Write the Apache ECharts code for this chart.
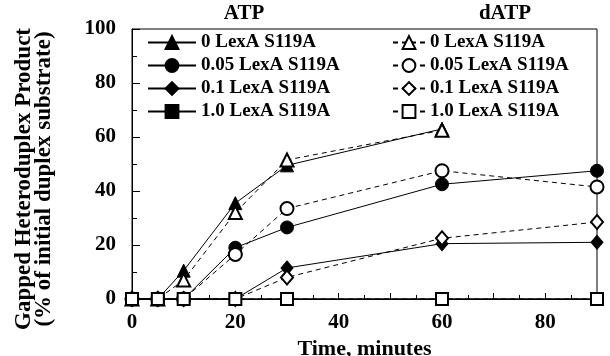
<!DOCTYPE html>
<html>
<head>
<meta charset="utf-8">
<script src="https://cdn.jsdelivr.net/npm/echarts@6/dist/echarts.min.js"></script>
<style>
html, body { margin: 0; padding: 0; background: #fff; }
#chart { width: 610px; height: 356px; }
</style>
</head>
<body>
<div id="chart"></div>
<script>
//时间点(分钟)
var times = [0, 5, 10, 20, 30, 60, 90];
//ATP 各浓度
var atp0 = [0, 0, 10.5, 35.5, 49.5, 63, null];
var atp005 = [0, 0, 0, 19, 26.5, 42.5, 47.5];
var atp01 = [0, 0, 0, 0, 11.5, 20.5, 21];
var atp10 = [0, 0, 0, 0, 0, 0, 0];
//dATP 各浓度
var datp0 = [0, 0, 7, 32, 51.5, 62.5, null];
var datp005 = [0, 0, 0, 16.5, 33.5, 47.5, 41.5];
var datp01 = [0, 0, 0, 0, 8, 22.5, 28.5];
var datp10 = [0, 0, 0, 0, 0, 0, 0];
var labels = ['0 LexA S119A', '0.05 LexA S119A', '0.1 LexA S119A', '1.0 LexA S119A'];

var font = 'Liberation Serif';
var chart = echarts.init(document.getElementById('chart'));

function pairs(vals) {
    var d = [];
    for (var i = 0; i < times.length; i++) {
        if (vals[i] !== null) d.push([times[i], vals[i]]);
    }
    return d;
}

function mk(name, vals, symbol, size, dashed, bw) {
    return {
        name: name,
        type: 'line',
        data: pairs(vals),
        symbol: symbol,
        symbolSize: size,
        showAllSymbol: true,
        animation: false,
        lineStyle: { color: '#000', width: 1, type: dashed ? [5, 4] : 'solid' },
        itemStyle: { color: '#000', borderColor: '#000', borderWidth: bw || 1 }
    };
}

var series = [
    mk('ATP ' + labels[0], atp0, 'triangle', 13, false),
    mk('ATP ' + labels[1], atp005, 'circle', 13, false),
    mk('ATP ' + labels[2], atp01, 'diamond', [12, 14], false),
    mk('ATP ' + labels[3], atp10, 'rect', 12, false),
    mk('dATP ' + labels[0], datp0, 'emptyTriangle', 13, true),
    mk('dATP ' + labels[1], datp005, 'emptyCircle', 13, true),
    mk('dATP ' + labels[2], datp01, 'emptyDiamond', [12, 14], true),
    mk('dATP ' + labels[3], datp10, 'emptyRect', 12, true, 2)
];

function legend(left, width, prefix) {
    return {
        left: left,
        top: 33,
        orient: 'vertical',
        padding: 0,
        itemWidth: width,
        itemHeight: 16,
        itemGap: 4,
        data: labels.map(function (l) { return prefix + l; }),
        formatter: function (n) { return n.replace(/^d?ATP /, ''); },
        textStyle: { fontFamily: font, fontWeight: 'bold', fontSize: 19, color: '#000' }
    };
}

var option = {
    backgroundColor: '#fff',
    animation: false,
    title: [
        { text: 'ATP', left: 244, top: 3, textAlign: 'center', padding: 0,
          textStyle: { fontFamily: font, fontWeight: 'bold', fontSize: 21, color: '#000' } },
        { text: 'dATP', left: 505, top: 3, textAlign: 'center', padding: 0,
          textStyle: { fontFamily: font, fontWeight: 'bold', fontSize: 21, color: '#000' } }
    ],
    legend: [legend(147, 48, 'ATP '), legend(392, 32, 'dATP ')],
    grid: { left: 132, right: 13, top: 29, bottom: 57, show: true, borderColor: '#000', borderWidth: 1,
            outerBoundsMode: 'none' },
    xAxis: {
        type: 'value',
        min: 0, max: 90, interval: 10,
        name: 'Time, minutes',
        nameLocation: 'middle',
        nameGap: 18,
        nameTextStyle: { fontFamily: font, fontWeight: 'bold', fontSize: 22, color: '#000' },
        axisLine: { lineStyle: { color: '#000' } },
        axisTick: { inside: true, length: 6, lineStyle: { color: '#000' } },
        minorTick: { show: true, splitNumber: 2, length: 4, lineStyle: { color: '#000' } },
        splitLine: { show: false },
        axisLabel: {
            margin: 13,
            fontFamily: font, fontWeight: 'bold', fontSize: 21, color: '#000',
            formatter: function (v) { return (v % 20 === 0 && v < 90) ? String(v) : ''; }
        }
    },
    yAxis: {
        type: 'value',
        min: 0, max: 100, interval: 20,
        name: 'Gapped Heteroduplex Product\n(% of initial duplex substrate)',
        nameLocation: 'middle',
        nameRotate: 90,
        nameGap: 78,
        nameTextStyle: { fontFamily: font, fontWeight: 'bold', fontSize: 23, color: '#000',
                         lineHeight: 20, padding: [0, 30, 0, 0] },
        axisLine: { lineStyle: { color: '#000' } },
        axisTick: { inside: true, length: 8, lineStyle: { color: '#000' } },
        minorTick: { show: true, splitNumber: 2, length: 5, lineStyle: { color: '#000' } },
        splitLine: { show: false },
        axisLabel: { margin: 16, fontFamily: font, fontWeight: 'bold', fontSize: 21, color: '#000' }
    },
    series: series
};

chart.setOption(option);
window.addEventListener('resize', function () {
    chart.resize();
});
</script>
</body>
</html>
